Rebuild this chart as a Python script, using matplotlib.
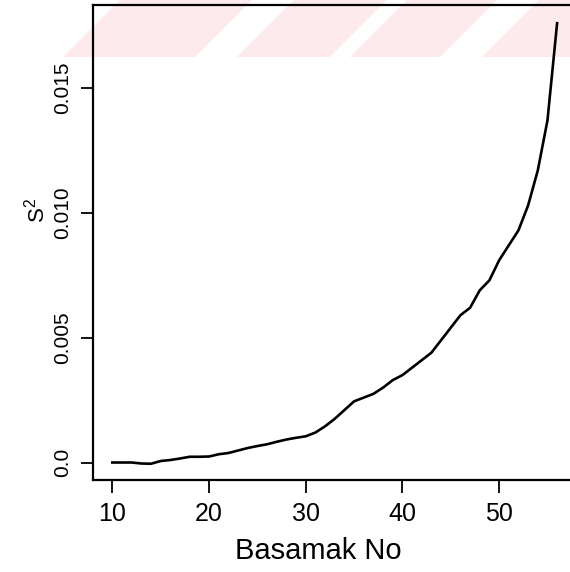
import matplotlib
matplotlib.use('Agg')
import matplotlib.pyplot as plt
from matplotlib.patches import Polygon

plt.rcParams['font.family'] = ['Liberation Sans', 'DejaVu Sans']
plt.rcParams['mathtext.default'] = 'regular'

# ---- data ----
step_no = [10, 11, 12, 13, 14, 15, 16, 17, 18, 19, 20, 21, 22, 23, 24, 25,
           26, 27, 28, 29, 30, 31, 32, 33, 34, 35, 36, 37, 38, 39, 40, 41,
           42, 43, 44, 45, 46, 47, 48, 49, 50, 51, 52, 53, 54, 55, 56]
s2 = [0.0, 0.0, 0.0, -0.00004, -0.00005, 0.00006, 0.00010, 0.00016, 0.00023,
      0.00023, 0.00024, 0.00033, 0.00038, 0.00048, 0.00058, 0.00066, 0.00073,
      0.00083, 0.00092, 0.00099, 0.00105, 0.00120, 0.00145, 0.00175, 0.00210,
      0.00245, 0.00260, 0.00275, 0.00300, 0.00330, 0.00350, 0.00380, 0.00410,
      0.00440, 0.00490, 0.00540, 0.00590, 0.00620, 0.00690, 0.00730, 0.00810,
      0.00870, 0.00930, 0.01030, 0.01170, 0.01370, 0.01760]
xticks = [10, 20, 30, 40, 50]
yticks = [0.0, 0.005, 0.010, 0.015]
ytick_labels = ['0.0', '0.005', '0.010', '0.015']
x_label = 'Basamak No'
y_label = 'S$^2$'

W, H = 570, 572
fig = plt.figure(figsize=(W / 100, H / 100), dpi=100)


def fx(px):
    return px / W


def fy(py):
    return 1 - py / H


def poly(pts, **kw):
    p = Polygon([(fx(a), fy(b)) for a, b in pts], closed=True,
                transform=fig.transFigure, edgecolor='none', **kw)
    fig.patches.append(p)


# ---- faint pink striped watermark at the top (behind everything) ----
pink = '#fdeaed'
poly([(63, 57), (120, 0), (570, 0), (570, 57)], facecolor=pink, zorder=-3)
for x0, w in [(195, 42), (330, 20), (440, 42)]:
    poly([(x0, 57), (x0 + w, 57), (x0 + w + 57, 0), (x0 + 57, 0)],
         facecolor='white', zorder=-2)

# ---- axes ----
ax = fig.add_axes([fx(93), fy(480), fx(575) - fx(93), fy(5) - fy(480)])
ax.set_zorder(1)
ax.patch.set_alpha(0)
ax.plot(step_no, s2, color='black', lw=1.9, solid_joinstyle='miter')
ax.set_xlim(8.0, 57.85)
ax.set_ylim(-0.000701, 0.01833)
ax.set_xticks(xticks)
ax.set_xticklabels([str(t) for t in xticks])
ax.set_yticks(yticks)
ax.set_yticklabels(ytick_labels, rotation=90, va='center')
for s in ax.spines.values():
    s.set_linewidth(1.6)
ax.spines['right'].set_visible(False)
ax.tick_params(axis='both', direction='out', length=9, width=1.3, colors='black')
ax.tick_params(axis='x', labelsize=18, pad=7)
ax.tick_params(axis='y', labelsize=15, pad=6)

fig.text(fx(37), fy(211), y_label, rotation=90, ha='center', va='center', fontsize=16)
fig.text(fx(318), fy(551), x_label, ha='center', va='center', fontsize=21)

fig.savefig('out.png', dpi=100)
